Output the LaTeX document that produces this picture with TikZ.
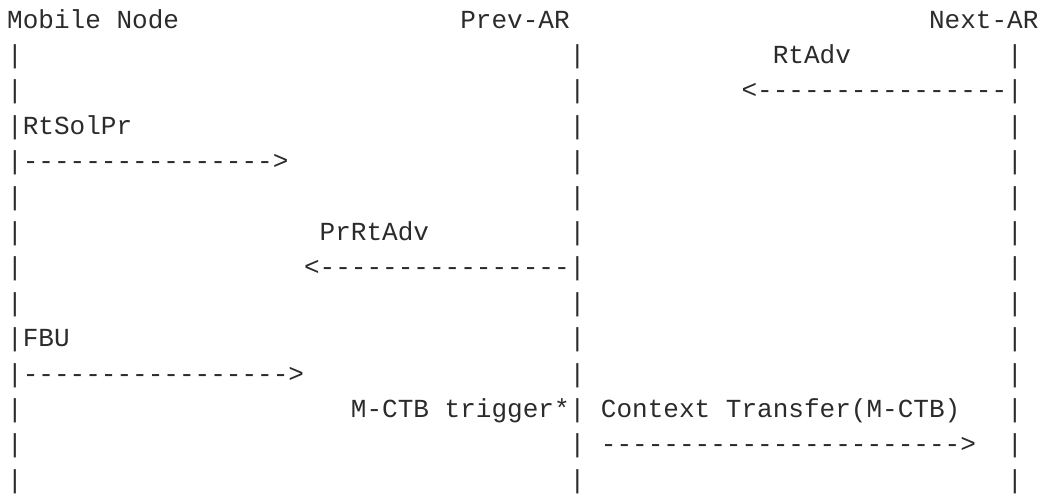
\documentclass[tikz,border=0pt]{standalone}
\usepackage{fontspec}
\setmonofont{Liberation Mono}
\definecolor{ink}{HTML}{2B2B2B}
% one character cell of the text grid, and the line pitch
\newcommand\cellw{15.625}
\newcommand\linep{35.4}
% \seg{name}{row}{column}{text}
\newcommand\seg[4]{\node[txt] (#1) at ({7.2+#3*\cellw},{-(28+#2*\linep)}) {#4};}
\begin{document}
\begin{tikzpicture}[x=1pt,y=1pt,
  txt/.style={anchor=base west,inner sep=0pt,outer sep=0pt,text=ink,
    font=\ttfamily\fontsize{26.04}{30}\selectfont}]
\useasboundingbox (0,0) rectangle (1041,-496);
% header
\seg{mn}{0}{0}{Mobile Node}
\seg{par}{0}{29}{Prev-AR}
\seg{nar}{0}{59}{Next-AR}
% row 1
\seg{a1}{1}{0}{|}\seg{b1}{1}{36}{|}\seg{rtadv}{1}{49}{RtAdv}\seg{c1}{1}{64}{|}
% row 2
\seg{a2}{2}{0}{|}\seg{b2}{2}{36}{|}\seg{m1}{2}{47}{<----------------|}
% row 3
\seg{rtsol}{3}{0}{|RtSolPr}\seg{b3}{3}{36}{|}\seg{c3}{3}{64}{|}
% row 4
\seg{m2}{4}{0}{|---------------->}\seg{b4}{4}{36}{|}\seg{c4}{4}{64}{|}
% row 5
\seg{a5}{5}{0}{|}\seg{b5}{5}{36}{|}\seg{c5}{5}{64}{|}
% row 6
\seg{a6}{6}{0}{|}\seg{prrt}{6}{20}{PrRtAdv}\seg{b6}{6}{36}{|}\seg{c6}{6}{64}{|}
% row 7
\seg{a7}{7}{0}{|}\seg{m3}{7}{19}{<----------------|}\seg{c7}{7}{64}{|}
% row 8
\seg{a8}{8}{0}{|}\seg{b8}{8}{36}{|}\seg{c8}{8}{64}{|}
% row 9
\seg{fbu}{9}{0}{|FBU}\seg{b9}{9}{36}{|}\seg{c9}{9}{64}{|}
% row 10
\seg{m4}{10}{0}{|----------------->}\seg{b10}{10}{36}{|}\seg{c10}{10}{64}{|}
% row 11
\seg{a11}{11}{0}{|}\seg{trig}{11}{22}{M-CTB trigger*|}\seg{ctx}{11}{38}{Context Transfer(M-CTB)}\seg{c11}{11}{64}{|}
% row 12
\seg{a12}{12}{0}{|}\seg{b12}{12}{36}{|}\seg{m5}{12}{38}{----------------------->}\seg{c12}{12}{64}{|}
% row 13
\seg{a13}{13}{0}{|}\seg{b13}{13}{36}{|}\seg{c13}{13}{64}{|}
\end{tikzpicture}
\end{document}
